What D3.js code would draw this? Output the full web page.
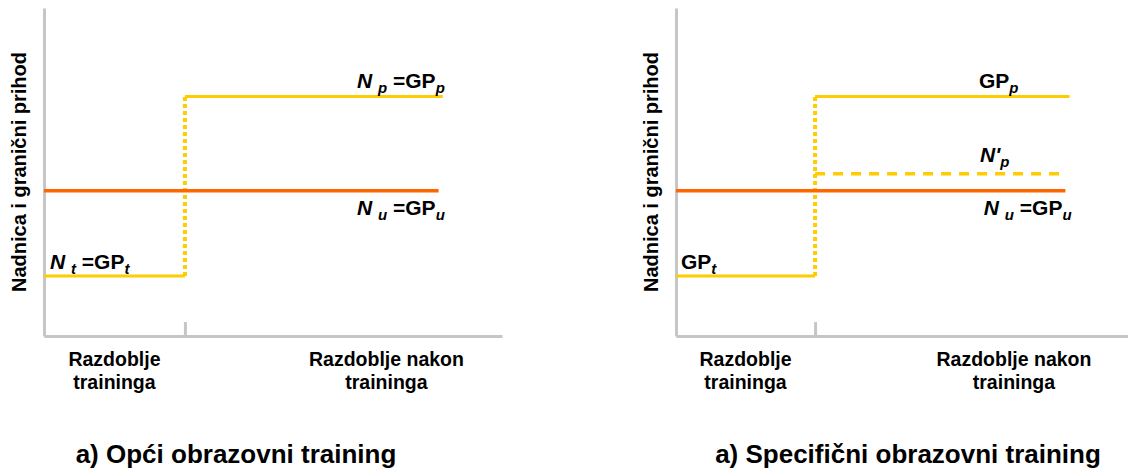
<!DOCTYPE html>
<html>
<head>
<meta charset="utf-8">
<script src="https://cdn.jsdelivr.net/npm/d3@7"></script>
<style>
  body { margin: 0; background: #fff; }
  text { font-family: "Liberation Sans", Arial, sans-serif; font-weight: bold; fill: #000; }
</style>
</head>
<body>
<div id="chart"></div>
<script>
// Values (arbitrary wage units)
const periodLabels = [["Razdoblje", "traininga"], ["Razdoblje nakon", "traininga"]];
const periodCenters = [0.5, 2.43];
const trainingEnd = 1;          // boundary between the two periods
const lineEnd = 2.83;           // where the yellow level lines stop
const orangeEnd = 2.8;          // where the orange line stops
const xMax = 3.25, yMax = 10;
const levelTraining = 1.83;     // N_t = GP_t
const levelUntrained = 4.43;    // N_u = GP_u
const levelTrained = 7.3;       // N_p = GP_p
const levelSpecificWage = 4.95; // N'_p
const panelTitles = ["a) Opći obrazovni training", "a) Specifični obrazovni training"];
const yTitle = "Nadnica i granični prihod";

const yellow = "#ffcc00", orange = "#ff6600", axisGrey = "#c6c6c6";

const width = 1128, height = 470;
const svg = d3.select("#chart").append("svg")
    .attr("width", width)
    .attr("height", height);

const yScale = d3.scaleLinear().domain([0, yMax]).range([336, 8]);

// label parts: [text, italic, subscript]
const panels = [
    {
        x0: 44, axisW: 458, titleX: 236,
        dashedY: null,
        labels: [
            { x: lineEnd, y: levelTrained, dx: 2, dy: -9, anchor: "end",
              parts: [["N", 1, 0], [" ", 0, 0], ["p", 1, 1], [" =GP", 0, 0], ["p", 1, 1]] },
            { x: lineEnd, y: levelUntrained, dx: 2, dy: 24, anchor: "end",
              parts: [["N", 1, 0], [" ", 0, 0], ["u", 1, 1], [" =GP", 0, 0], ["u", 1, 1]] },
            { x: 0, y: levelTraining, dx: 6, dy: -7, anchor: "start",
              parts: [["N", 1, 0], [" ", 0, 0], ["t", 1, 1], [" =GP", 0, 0], ["t", 1, 1]] }
        ]
    },
    {
        x0: 676, axisW: 452, titleX: 908,
        dashedY: levelSpecificWage,
        labels: [
            { x: 2.2, y: levelTrained, dx: -3, dy: -9, anchor: "start",
              parts: [["GP", 0, 0], ["p", 1, 1]] },
            { x: 2.2, y: levelSpecificWage, dx: -2, dy: -12, anchor: "start",
              parts: [["N'", 1, 0], ["p", 1, 1]] },
            { x: lineEnd, y: levelUntrained, dx: 2, dy: 24, anchor: "end",
              parts: [["N", 1, 0], [" ", 0, 0], ["u", 1, 1], [" =GP", 0, 0], ["u", 1, 1]] },
            { x: 0, y: levelTraining, dx: 5, dy: -7, anchor: "start",
              parts: [["GP", 0, 0], ["t", 1, 1]] }
        ]
    }
];

panels.forEach(function (p, i) {
    const xScale = d3.scaleLinear().domain([0, xMax]).range([p.x0, p.x0 + p.axisW]);
    const g = svg.append("g");
    const line = d3.line().x(d => xScale(d[0])).y(d => yScale(d[1]));

    // Axes: plain grey lines, one inner tick at the end of training
    g.append("g")
        .attr("transform", "translate(0," + yScale(0) + ")")
        .call(d3.axisTop(xScale).tickValues([trainingEnd]).tickSize(14).tickSizeOuter(0).tickFormat(""))
        .call(a => a.selectAll("path, line").attr("stroke", axisGrey).attr("stroke-width", 3));
    g.append("g")
        .attr("transform", "translate(" + xScale(0) + ",0)")
        .call(d3.axisLeft(yScale).tickValues([]).tickSizeOuter(0))
        .call(a => a.selectAll("path").attr("stroke", axisGrey).attr("stroke-width", 3));

    // Dotted jump at the end of training
    g.append("path")
        .attr("d", line([[trainingEnd, levelTraining], [trainingEnd, levelTrained]]))
        .attr("fill", "none").attr("stroke", yellow)
        .attr("stroke-width", 4).attr("stroke-dasharray", "4,3");

    // Untrained wage = marginal revenue
    g.append("path")
        .attr("d", line([[0, levelUntrained], [orangeEnd, levelUntrained]]))
        .attr("fill", "none").attr("stroke", orange).attr("stroke-width", 3.5);

    // Training period and after-training levels
    g.append("path")
        .attr("d", line([[0, levelTraining], [trainingEnd, levelTraining]]))
        .attr("fill", "none").attr("stroke", yellow).attr("stroke-width", 3);
    g.append("path")
        .attr("d", line([[trainingEnd, levelTrained], [lineEnd, levelTrained]]))
        .attr("fill", "none").attr("stroke", yellow).attr("stroke-width", 3);

    if (p.dashedY !== null) {
        g.append("path")
            .attr("d", line([[trainingEnd, p.dashedY], [orangeEnd, p.dashedY]]))
            .attr("fill", "none").attr("stroke", yellow)
            .attr("stroke-width", 3.5).attr("stroke-dasharray", "10,8");
    }

    // Level labels
    p.labels.forEach(function (lb) {
        const t = g.append("text")
            .attr("x", xScale(lb.x) + lb.dx)
            .attr("y", yScale(lb.y) + lb.dy)
            .attr("text-anchor", lb.anchor)
            .style("font-size", "21px");
        let shifted = false;
        lb.parts.forEach(function (part) {
            const s = t.append("tspan").text(part[0]);
            if (part[1]) s.style("font-style", "italic");
            if (part[2]) {
                s.style("font-size", "15px").attr("dy", shifted ? 0 : 5);
                shifted = true;
            } else if (shifted) {
                s.attr("dy", -5);
                shifted = false;
            }
        });
    });

    // Period labels under the axis
    periodLabels.forEach(function (lines, k) {
        const t = g.append("text")
            .attr("text-anchor", "middle")
            .attr("y", 366)
            .style("font-size", "19.5px");
        lines.forEach(function (s, j) {
            t.append("tspan")
                .attr("x", xScale(periodCenters[k]))
                .attr("dy", j === 0 ? 0 : 23)
                .text(s);
        });
    });

    // Y axis title
    g.append("text")
        .attr("transform", "translate(" + (p.x0 - 18) + "," + 172 + ") rotate(-90)")
        .attr("text-anchor", "middle")
        .style("font-size", "20px")
        .text(yTitle);

    // Panel caption
    g.append("text")
        .attr("x", p.titleX)
        .attr("y", 463)
        .attr("text-anchor", "middle")
        .style("font-size", "26px")
        .text(panelTitles[i]);
});
</script>
</body>
</html>
